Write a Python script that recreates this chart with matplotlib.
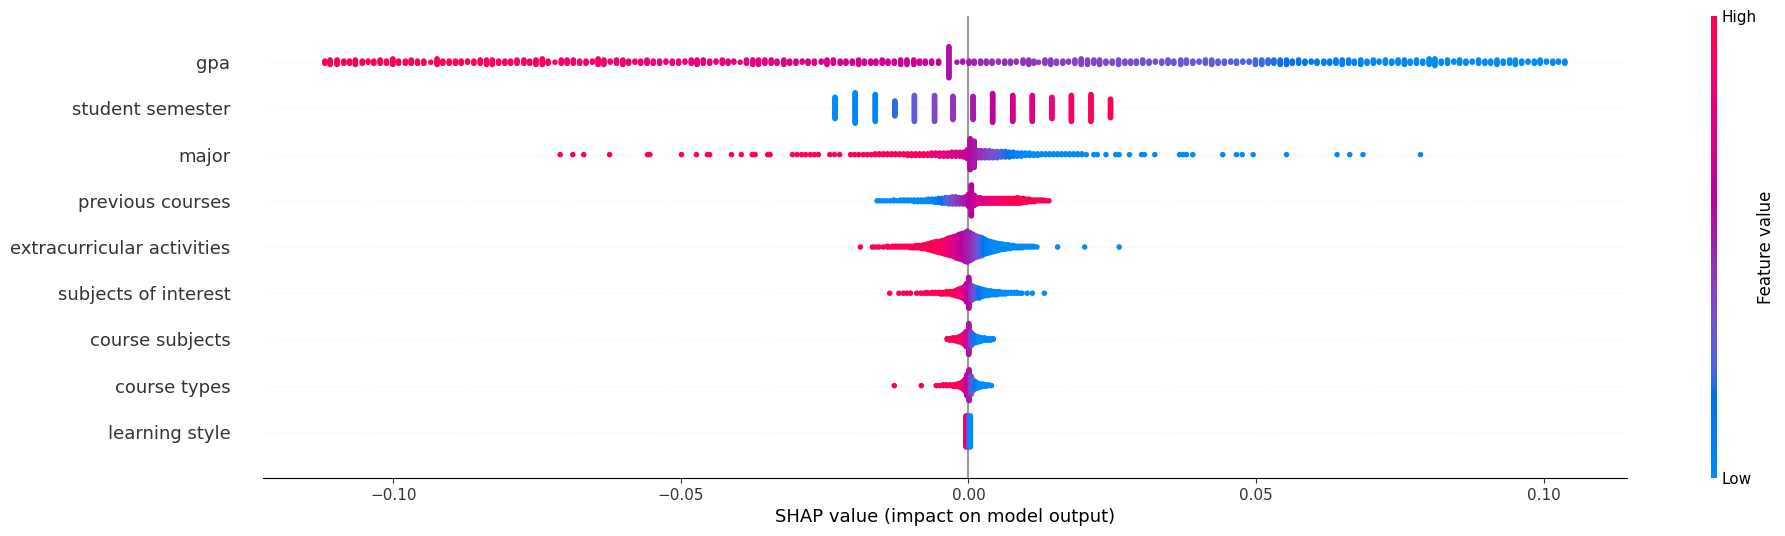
import numpy as np
import matplotlib
matplotlib.use("Agg")
import matplotlib.pyplot as plt
import matplotlib.cm as cm
from matplotlib.colors import LinearSegmentedColormap

# feature order, top to bottom
features = ["gpa", "student semester", "major", "previous courses",
            "extracurricular activities", "subjects of interest",
            "course subjects", "course types", "learning style"]

# SHAP values are in thousandths, n = points stacked at that value,
# c = normalised feature value (0 low -> 1 high)
gpa_x = [-111.9, -111.0, -109.8, -108.6, -107.6, -106.6, -105.4, -104.4, -103.4, -102.3,
         -101.2, -100.1, -99.1, -97.9, -96.9, -95.8, -94.7, -93.5, -92.4, -91.4,
         -90.3, -89.2, -88.2, -87.1, -86.0, -84.9, -83.8, -82.8, -81.7, -80.6,
         -79.6, -78.5, -77.3, -76.3, -75.2, -74.1, -73.1, -71.9, -70.8, -69.8,
         -68.7, -67.6, -66.5, -65.4, -64.4, -63.4, -62.3, -61.2, -60.1, -59.1,
         -58.0, -57.0, -55.9, -54.8, -53.7, -52.6, -51.5, -50.4, -49.3, -48.2,
         -47.2, -46.1, -45.0, -43.9, -42.8, -41.8, -40.8, -39.7, -38.6, -37.5,
         -36.5, -35.4, -34.3, -33.3, -32.1, -31.1, -30.0, -28.9, -27.9, -26.8,
         -25.6, -24.6, -23.5, -22.3, -21.3, -20.2, -19.1, -18.1, -17.0, -16.1,
         -15.0, -14.0, -12.9, -11.8, -10.7, -9.5, -8.5, -7.5, -6.4, -5.2,
         -3.4, -2.0, -1.0, 0.1, 1.0, 2.1, 3.1, 4.1, 5.2, 6.3,
         7.3, 8.3, 9.5, 10.5, 11.4, 12.2, 13.3, 14.3, 15.3, 16.4,
         17.4, 18.5, 19.6, 20.7, 21.8, 22.8, 23.9, 25.0, 26.1, 27.2,
         28.2, 29.2, 30.3, 31.4, 32.5, 33.6, 34.7, 35.7, 36.9, 37.9,
         39.0, 40.1, 41.2, 42.3, 43.4, 44.5, 45.6, 46.6, 47.7, 48.8,
         49.9, 51.0, 52.1, 53.1, 54.2, 55.3, 56.3, 57.4, 58.5, 59.6,
         60.6, 61.8, 62.8, 63.9, 65.0, 66.1, 67.1, 68.2, 69.3, 70.4,
         71.4, 72.5, 73.6, 74.7, 75.8, 76.8, 77.9, 79.0, 80.1, 81.1,
         82.2, 83.3, 84.4, 85.4, 86.5, 87.6, 88.7, 89.8, 90.8, 91.9,
         93.0, 94.1, 95.1, 96.2, 97.3, 98.4, 99.4, 100.5, 101.6, 102.6,
         103.7]
gpa_n = [3, 5, 5, 3, 3, 5, 3, 2, 3, 4,
         3, 6, 3, 3, 4, 3, 3, 1, 6, 3,
         3, 3, 3, 2, 3, 4, 5, 5, 3, 3,
         3, 4, 4, 3, 5, 6, 3, 1, 4, 4,
         4, 3, 3, 2, 6, 5, 2, 4, 5, 3,
         2, 3, 4, 3, 3, 2, 3, 3, 2, 4,
         5, 4, 3, 2, 4, 3, 2, 1, 4, 5,
         5, 4, 4, 3, 5, 3, 3, 2, 3, 3,
         2, 5, 4, 3, 3, 3, 5, 3, 3, 3,
         4, 3, 3, 5, 5, 5, 3, 3, 3, 3,
         29, 1, 2, 3, 3, 3, 3, 3, 2, 3,
         3, 2, 4, 5, 3, 1, 4, 5, 3, 3,
         2, 4, 6, 5, 4, 5, 3, 3, 5, 3,
         3, 3, 4, 3, 2, 3, 4, 3, 5, 4,
         3, 2, 4, 5, 3, 3, 2, 3, 2, 2,
         5, 5, 4, 4, 5, 5, 3, 4, 3, 2,
         3, 3, 3, 4, 5, 4, 3, 5, 3, 4,
         2, 4, 3, 4, 5, 3, 4, 3, 6, 7,
         3, 4, 2, 4, 3, 2, 4, 3, 3, 5,
         3, 4, 5, 3, 2, 3, 4, 2, 3, 2,
         3]
gpa_c = [1.0, 1.0, 1.0, 1.0, 1.0, 1.0, 1.0, 1.0, 1.0, 1.0,
         1.0, 1.0, 0.99, 0.99, 0.98, 0.98, 0.98, 0.97, 0.97, 0.97,
         0.96, 0.96, 0.95, 0.95, 0.95, 0.94, 0.94, 0.93, 0.93, 0.93,
         0.92, 0.92, 0.91, 0.91, 0.91, 0.90, 0.90, 0.89, 0.89, 0.89,
         0.88, 0.88, 0.88, 0.87, 0.87, 0.86, 0.86, 0.86, 0.85, 0.85,
         0.84, 0.84, 0.84, 0.83, 0.83, 0.82, 0.82, 0.82, 0.81, 0.81,
         0.80, 0.80, 0.80, 0.79, 0.79, 0.78, 0.78, 0.78, 0.77, 0.77,
         0.76, 0.76, 0.76, 0.75, 0.75, 0.74, 0.74, 0.74, 0.73, 0.73,
         0.72, 0.72, 0.72, 0.71, 0.71, 0.70, 0.70, 0.70, 0.69, 0.69,
         0.68, 0.68, 0.68, 0.67, 0.67, 0.66, 0.66, 0.65, 0.65, 0.64,
         0.56, 0.55, 0.54, 0.50, 0.49, 0.49, 0.48, 0.48, 0.47, 0.47,
         0.46, 0.46, 0.45, 0.45, 0.44, 0.44, 0.43, 0.43, 0.42, 0.42,
         0.41, 0.41, 0.40, 0.40, 0.39, 0.39, 0.38, 0.38, 0.37, 0.37,
         0.36, 0.36, 0.35, 0.35, 0.34, 0.34, 0.33, 0.33, 0.32, 0.32,
         0.31, 0.31, 0.30, 0.30, 0.29, 0.28, 0.27, 0.26, 0.25, 0.24,
         0.23, 0.22, 0.21, 0.20, 0.19, 0.17, 0.16, 0.15, 0.13, 0.12,
         0.11, 0.10, 0.09, 0.08, 0.07, 0.06, 0.05, 0.04, 0.03, 0.02,
         0.01, 0.0, 0.0, 0.0, 0.0, 0.0, 0.0, 0.0, 0.0, 0.0,
         0.0, 0.0, 0.0, 0.0, 0.0, 0.0, 0.0, 0.0, 0.0, 0.0,
         0.0, 0.0, 0.0, 0.0, 0.0, 0.0, 0.0, 0.0, 0.0, 0.0,
         0.0]

sem_x = [-23.2, -19.7, -16.2, -12.8, -9.4, -5.9, -2.7, 0.8, 4.2, 7.7, 11.1, 14.5, 17.9, 21.3, 24.7]
sem_n = [24, 34, 30, 17, 29, 29, 26, 26, 32, 29, 29, 24, 29, 30, 21]
sem_c = [0.0, 0.02, 0.05, 0.2, 0.3, 0.38, 0.45, 0.52, 0.62, 0.7, 0.76, 0.83, 0.9, 0.95, 1.0]

major_x = [-71.0, -68.8, -66.9, -62.4, -55.8, -55.4, -49.9, -47.3, -45.4, -45.0,
           -41.2, -39.5, -37.6, -37.1, -34.9, -34.5, -30.6, -29.8, -29.0, -28.3,
           -27.5, -26.8, -26.1, -24.1, -23.3, -22.4, -20.5, -19.8, -19.1, -18.3,
           -17.6, -16.9, -16.2, -15.5, -14.8, -14.1, -13.4, -12.7, -12.0, -11.3,
           -10.6, -9.9, -9.2, -8.5, -7.8, -7.1, -6.4, -5.7, -5.0, -4.3,
           -3.6, -2.9, -2.2, -1.5, -0.8, -0.2, 0.3, 1.0, 1.6, 2.2,
           2.9, 3.6, 4.3, 5.0, 5.7, 6.4, 7.1, 7.8, 8.5, 9.2,
           9.9, 10.6, 11.3, 12.0, 12.7, 13.4, 14.1, 14.8, 15.5, 16.2,
           16.9, 17.6, 18.3, 19.0, 19.7, 20.5, 21.8, 22.4, 23.9, 25.6,
           26.2, 28.0, 30.1, 30.6, 32.4, 36.7, 37.3, 37.9, 39.0, 44.2,
           46.6, 47.6, 49.5, 55.3, 64.1, 66.3, 68.6, 78.6]
major_n = [1, 1, 1, 1, 1, 1, 1, 1, 1, 1,
           1, 1, 1, 1, 1, 1, 1, 1, 1, 1,
           1, 1, 1, 1, 1, 1, 1, 1, 1, 1,
           1, 1, 2, 2, 2, 2, 2, 2, 2, 2,
           3, 3, 3, 3, 3, 3, 4, 4, 5, 5,
           5, 6, 6, 6, 7, 12, 40, 34, 10, 10,
           10, 10, 9, 9, 8, 8, 7, 6, 5, 5,
           4, 4, 3, 3, 2, 2, 2, 2, 2, 2,
           2, 2, 2, 2, 2, 1, 1, 1, 1, 1,
           1, 1, 1, 1, 1, 1, 1, 1, 1, 1,
           1, 1, 1, 1, 1, 1, 1, 1]
major_c = [1.0] * 40 + [0.98, 0.97, 0.96, 0.95, 0.93, 0.9, 0.88, 0.85, 0.82, 0.8,
                        0.77, 0.74, 0.72, 0.7, 0.66, 0.62, 0.58, 0.55, 0.5, 0.46,
                        0.42, 0.38, 0.34, 0.3, 0.25, 0.2, 0.15, 0.1, 0.06, 0.03] + [0.0] * 38

prev_x = [-15.9, -15.4, -14.8, -14.2, -13.6, -13.0, -12.4, -11.8, -11.2, -10.6,
          -10.0, -9.4, -8.8, -8.2, -7.6, -7.0, -6.4, -5.8, -5.2, -4.6,
          -4.0, -3.4, -2.8, -2.2, -1.6, -1.0, -0.5, 0.0, 0.5, 1.0,
          1.5, 2.0, 2.5, 3.0, 3.5, 4.0, 4.5, 5.0, 5.5, 6.0,
          6.5, 7.0, 7.5, 8.0, 8.5, 9.0, 9.5, 10.0, 10.5, 11.0,
          11.5, 12.0, 12.5, 13.0, 13.5, 14.0]
prev_n = [1, 1, 1, 1, 1, 2, 1, 2, 2, 2,
          2, 3, 3, 3, 3, 4, 4, 5, 6, 7,
          8, 9, 10, 10, 9, 9, 10, 16, 40, 14,
          9, 8, 7, 7, 7, 7, 7, 7, 7, 7,
          7, 7, 7, 7, 8, 7, 6, 5, 4, 3,
          3, 2, 2, 2, 1, 1]
prev_c = [0.0] * 16 + [0.02, 0.05, 0.1, 0.15, 0.22, 0.3, 0.35, 0.4, 0.45, 0.5,
                       0.55, 0.58, 0.6, 0.65, 0.7, 0.72, 0.75, 0.78, 0.8, 0.83,
                       0.86, 0.88, 0.9, 0.93, 0.95, 0.97] + [1.0] * 14

extra_x = [-18.8, -16.7, -16.2, -15.6, -14.8, -14.1, -13.6, -13.1, -12.6, -12.1,
           -11.6, -11.1, -10.6, -10.1, -9.6, -9.1, -8.6, -8.1, -7.6, -7.1,
           -6.6, -6.1, -5.6, -5.1, -4.6, -4.1, -3.6, -3.1, -2.6, -2.1,
           -1.6, -1.1, -0.6, -0.2, 0.3, 0.8, 1.3, 1.8, 2.3, 2.8,
           3.3, 3.8, 4.3, 4.8, 5.3, 5.8, 6.3, 6.8, 7.3, 7.8,
           8.3, 8.8, 9.3, 9.8, 10.3, 10.8, 11.3, 11.9, 15.5, 20.2,
           26.2]
extra_n = [1, 1, 1, 1, 1, 2, 1, 2, 2, 2,
           2, 2, 2, 3, 3, 4, 4, 5, 6, 8,
           10, 12, 14, 15, 17, 19, 22, 24, 26, 29,
           32, 34, 37, 40, 36, 32, 28, 26, 24, 20,
           17, 15, 13, 11, 9, 8, 7, 6, 5, 4,
           3, 3, 3, 2, 2, 2, 2, 1, 1, 1,
           1]
extra_c = [1.0] * 22 + [0.98, 0.95, 0.92, 0.88, 0.84, 0.8, 0.75, 0.7, 0.65, 0.6,
                        0.57, 0.55, 0.5, 0.45, 0.38, 0.3, 0.22, 0.15, 0.1, 0.05,
                        0.02] + [0.0] * 18

subj_x = [-13.7, -12.1, -11.3, -10.7, -10.1, -9.0, -8.3, -7.8, -7.3, -6.8,
          -6.3, -5.8, -5.3, -4.8, -4.3, -3.8, -3.3, -2.8, -2.3, -1.8,
          -1.3, -0.8, -0.35, 0.05, 0.5, 0.95, 1.4, 1.9, 2.4, 2.9,
          3.4, 3.9, 4.4, 4.9, 5.4, 5.9, 6.4, 6.9, 7.4, 7.9,
          8.4, 8.9, 9.3, 10.2, 11.1, 13.2]
subj_n = [1, 1, 1, 1, 1, 1, 1, 1, 2, 1,
          2, 2, 2, 3, 3, 4, 4, 5, 7, 10,
          12, 16, 24, 40, 20, 16, 14, 13, 10, 8,
          7, 6, 5, 5, 4, 3, 3, 2, 2, 2,
          2, 1, 1, 1, 1, 1]
subj_c = [1.0] * 17 + [0.98, 0.95, 0.9, 0.85, 0.75, 0.65, 0.58, 0.45, 0.35, 0.25,
                       0.15, 0.08, 0.03] + [0.0] * 16

csub_x = [-3.7, -3.2, -2.7, -2.2, -1.7, -1.2, -0.8, -0.4, 0.05, 0.45, 0.85, 1.3, 1.8, 2.3, 2.8, 3.3, 3.8, 4.3]
csub_n = [2, 3, 4, 5, 7, 10, 14, 20, 40, 18, 12, 9, 7, 5, 4, 3, 3, 2]
csub_c = [1.0, 1.0, 1.0, 1.0, 1.0, 0.95, 0.85, 0.72, 0.55, 0.4, 0.2, 0.08, 0.0, 0.0, 0.0, 0.0, 0.0, 0.0]

ctype_x = [-12.9, -8.2, -5.6, -5.0, -4.4, -3.8, -3.2, -2.6, -2.0, -1.5,
           -1.0, -0.6, -0.25, 0.1, 0.45, 0.8, 1.2, 1.6, 2.0, 2.5,
           3.0, 3.5, 4.0]
ctype_n = [1, 1, 1, 1, 2, 2, 2, 3, 4, 6,
           10, 16, 28, 40, 24, 14, 10, 7, 5, 4,
           3, 2, 1]
ctype_c = [1.0, 1.0, 1.0, 1.0, 1.0, 1.0, 1.0, 1.0, 0.98, 0.95,
           0.85, 0.75, 0.65, 0.55, 0.4, 0.25, 0.12, 0.05, 0.0, 0.0,
           0.0, 0.0, 0.0]

learn_x = [-0.43, -0.18, 0.08, 0.33]
learn_n = [40, 40, 40, 40]
learn_c = [1.0, 0.75, 0.35, 0.0]

rows = [(gpa_x, gpa_n, gpa_c), (sem_x, sem_n, sem_c), (major_x, major_n, major_c),
        (prev_x, prev_n, prev_c), (extra_x, extra_n, extra_c), (subj_x, subj_n, subj_c),
        (csub_x, csub_n, csub_c), (ctype_x, ctype_n, ctype_c), (learn_x, learn_n, learn_c)]

row_height = 0.4
axis_color = "#333333"


def lch_to_rgb(l, c, h):
    # Lch -> Lab -> XYZ (D65) -> sRGB, same as skimage lab2rgb
    a, b = c * np.cos(h), c * np.sin(h)
    fy = (l + 16.0) / 116.0
    fx, fz = fy + a / 500.0, fy - b / 200.0

    def finv(t):
        return t ** 3 if t > 6 / 29 else 3 * (6 / 29) ** 2 * (t - 4 / 29)

    xyz = np.array([0.95047 * finv(fx), finv(fy), 1.08883 * finv(fz)])
    m = np.array([[3.2406, -1.5372, -0.4986],
                  [-0.9689, 1.8758, 0.0415],
                  [0.0557, -0.2040, 1.0570]])
    rgb = m @ xyz
    rgb = np.where(rgb > 0.0031308, 1.055 * np.abs(rgb) ** (1 / 2.4) - 0.055, 12.92 * rgb)
    return np.clip(rgb, 0, 1)


def shap_red_blue():
    blue_lch = [54.0, 70.0, 4.6588]
    red_lch = [54.0, 90.0, 0.35470565 + 2 * np.pi]
    l_mid = 40.0
    nsteps = 100
    ls = list(np.linspace(blue_lch[0], l_mid, nsteps // 2)) + list(np.linspace(l_mid, red_lch[0], nsteps // 2))
    cs = np.linspace(blue_lch[1], red_lch[1], nsteps)
    hs = np.linspace(blue_lch[2], red_lch[2], nsteps)
    colors = [lch_to_rgb(l, c, h) for l, c, h in zip(ls, cs, hs)]
    return LinearSegmentedColormap.from_list("red_blue", colors)


def swarm(xs, ns, cs):
    # stack points sharing a value up and down, like shap's beeswarm layout
    px, py, pc = [], [], []
    for x, n, c in zip(xs, ns, cs, strict=True):
        k = np.arange(n)
        py.append(np.ceil(k / 2) * ((k % 2) * 2 - 1))
        px.append(np.full(n, x * 1e-3))
        pc.append(np.full(n, c))
    ys = np.concatenate(py)
    ys = ys * 0.9 * (row_height / np.max(ys + 1))
    return np.concatenate(px), ys, np.concatenate(pc)


cmap = shap_red_blue()

fig = plt.figure(figsize=(17.85, 5.36), dpi=100)
ax = fig.add_axes([0.1473, 0.1082, 0.7641, 0.8619])

ax.axvline(x=0, color="#999999", zorder=-1)
n_feat = len(features)
for i, (xs, ns, cs) in enumerate(rows):
    pos = n_feat - 1 - i
    ax.axhline(y=pos, color="#cccccc", lw=0.5, dashes=(1, 5), zorder=-1)
    px, py, pc = swarm(xs, ns, cs)
    ax.scatter(px, pos + py, c=pc, cmap=cmap, vmin=0, vmax=1, s=16, linewidth=0)

ax.xaxis.set_ticks_position("bottom")
ax.yaxis.set_ticks_position("none")
for side in ["right", "top", "left"]:
    ax.spines[side].set_visible(False)
ax.tick_params(color=axis_color, labelcolor=axis_color)
ax.set_yticks(range(n_feat))
ax.set_yticklabels(features[::-1], fontsize=13)
ax.tick_params("y", length=20, width=0.5, which="major")
ax.tick_params("x", labelsize=11)
ax.set_ylim(-1, n_feat)
ax.set_xlabel("SHAP value (impact on model output)", fontsize=13)

cax = fig.add_axes([1711 / 1785, 0.1082, 6 / 1785, 0.8619])
sm = cm.ScalarMappable(cmap=cmap)
sm.set_array([0, 1])
cb = fig.colorbar(sm, cax=cax, ticks=[0, 1])
cb.set_ticklabels(["Low", "High"])
cb.set_label("Feature value", size=12, labelpad=0)
cb.ax.tick_params(labelsize=11, length=0)
cb.outline.set_visible(False)

fig.savefig("out.png", dpi=100)
